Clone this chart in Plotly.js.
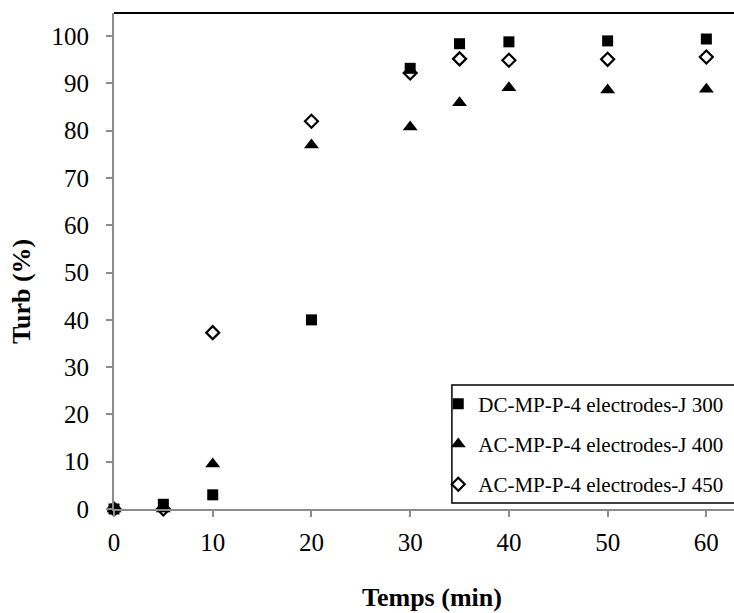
<!DOCTYPE html>
<html>
<head>
<meta charset="utf-8">
<script src="https://cdn.plot.ly/plotly-3.0.1.min.js"></script>
<style>html,body{margin:0;padding:0;background:#fff;}#chart{width:734px;height:613px;}</style>
</head>
<body>
<div id="chart"></div>
<script>
var times = [0, 5, 10, 20, 30, 35, 40, 50, 60];
var dcJ300 = [0, 1, 3, 40, 93.2, 98.4, 98.8, 99.0, 99.4];
var acJ400 = [0, 0, 9.5, 77, 80.8, 85.9, 89.1, 88.6, 88.8];
var acJ450 = [0, 0, 37.3, 82, 92.2, 95.2, 94.9, 95.1, 95.6];
var seriesNames = ["DC-MP-P-4 electrodes-J 300", "AC-MP-P-4 electrodes-J 400", "AC-MP-P-4 electrodes-J 450"];
var xTicks = [0, 10, 20, 30, 40, 50, 60];
var yTicks = [0, 10, 20, 30, 40, 50, 60, 70, 80, 90, 100];
var xTitle = "Temps (min)";
var yTitle = "Turb (%)";

var fontFam = "'Liberation Serif', serif";
var traces = [
  {x: times, y: dcJ300, name: seriesNames[0], mode: "markers", type: "scatter", legendgroup: "a", cliponaxis: false,
   marker: {symbol: "square", size: 11, color: "#000"}},
  {x: times, y: acJ400, name: seriesNames[1], mode: "markers", type: "scatter", legendgroup: "b", cliponaxis: false,
   marker: {symbol: "triangle-up", size: 13, color: "#000"}},
  {x: times, y: acJ450, name: seriesNames[2], mode: "markers", type: "scatter", legendgroup: "c", cliponaxis: false,
   marker: {symbol: "diamond-open", size: 10, color: "#000", line: {width: 2.2, color: "#000"}}}
];
var layout = {
  width: 734, height: 613,
  margin: {l: 114, r: 0, t: 13, b: 104},
  paper_bgcolor: "#fff", plot_bgcolor: "#fff",
  font: {family: fontFam, color: "#000", size: 25},
  showlegend: true,
  legend: {x: 0.523, xanchor: "left", y: 0.253, yanchor: "top",
    borderwidth: 0, bgcolor: "rgba(0,0,0,0)",
    font: {family: fontFam, size: 21, color: "#000"},
    traceorder: "grouped", tracegroupgap: 10, itemwidth: 30},
  xaxis: {range: [0, 62.8], tickvals: xTicks, ticktext: xTicks.map(String),
    showgrid: false, zeroline: false, showline: true, linecolor: "#8c8c8c", linewidth: 2,
    ticks: "outside", ticklen: 6, tickwidth: 2, tickcolor: "#8c8c8c", ticklabelstandoff: 4,
    tickfont: {family: fontFam, size: 25, color: "#000"}},
  yaxis: {range: [0, 104.9], tickvals: yTicks, ticktext: yTicks.map(String),
    showgrid: false, zeroline: false, showline: true, linecolor: "#8c8c8c", linewidth: 2,
    ticks: "outside", ticklen: 6, tickwidth: 2, tickcolor: "#8c8c8c", ticklabelstandoff: 12,
    tickfont: {family: fontFam, size: 25, color: "#000"}},
  annotations: [
    {text: "<b>" + xTitle + "</b>", xref: "paper", yref: "paper", x: 0.513, y: -0.179,
     xanchor: "center", yanchor: "middle", showarrow: false, font: {family: fontFam, size: 26, color: "#000"}},
    {text: "<b>" + yTitle + "</b>", xref: "paper", yref: "paper", x: -0.15, y: 0.4375, textangle: -90,
     xanchor: "center", yanchor: "middle", showarrow: false, font: {family: fontFam, size: 26, color: "#000"}}
  ],
  shapes: [
    {type: "line", xref: "paper", yref: "paper", x0: 0, x1: 1, y0: 1, y1: 1, line: {color: "#000", width: 2}},
    {type: "rect", xref: "paper", yref: "paper", x0: 0.545, x1: 1.005, y0: 0.012, y1: 0.25,
     line: {color: "#000", width: 1.5}, fillcolor: "#fff", layer: "below"}
  ]
};
Plotly.newPlot("chart", traces, layout, {displayModeBar: false, staticPlot: true});
</script>
</body>
</html>
